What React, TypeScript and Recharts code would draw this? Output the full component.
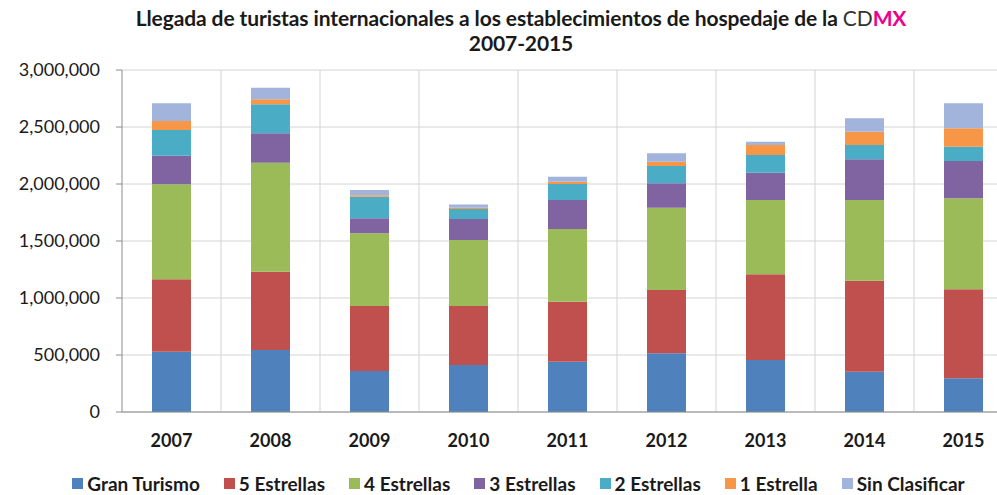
import React from 'react'
import {
  BarChart,
  Bar,
  XAxis,
  YAxis,
  Legend,
  CartesianGrid
} from 'recharts'

const YEARS = ['2007', '2008', '2009', '2010', '2011', '2012', '2013', '2014', '2015']

const GRAN_TURISMO = [529000, 544000, 360000, 412000, 441000, 515000, 456000, 354000, 295000]
const CINCO_ESTRELLAS = [635000, 687000, 570000, 518000, 527000, 555000, 752000, 798000, 781000]
const CUATRO_ESTRELLAS = [833000, 956000, 638000, 579000, 637000, 722000, 652000, 708000, 798000]
const TRES_ESTRELLAS = [251000, 258000, 131000, 184000, 255000, 214000, 239000, 357000, 328000]
const DOS_ESTRELLAS = [226000, 254000, 190000, 88000, 140000, 152000, 155000, 125000, 125000]
const UNA_ESTRELLA = [79000, 44000, 12000, 10000, 20000, 38000, 88000, 117000, 162000]
const SIN_CLASIFICAR = [155000, 102000, 46000, 30000, 44000, 73000, 29000, 117000, 219000]

const Y_TICKS = [0, 500000, 1000000, 1500000, 2000000, 2500000, 3000000]

const SERIES = [
  { key: 'gt', name: 'Gran Turismo', color: '#4F81BD', values: GRAN_TURISMO },
  { key: 'e5', name: '5 Estrellas', color: '#C0504D', values: CINCO_ESTRELLAS },
  { key: 'e4', name: '4 Estrellas', color: '#9BBB59', values: CUATRO_ESTRELLAS },
  { key: 'e3', name: '3 Estrellas', color: '#8064A2', values: TRES_ESTRELLAS },
  { key: 'e2', name: '2 Estrellas', color: '#4BACC6', values: DOS_ESTRELLAS },
  { key: 'e1', name: '1 Estrella', color: '#F79646', values: UNA_ESTRELLA },
  { key: 'sc', name: 'Sin Clasificar', color: '#A2B3DC', values: SIN_CLASIFICAR }
]

const data = YEARS.map((year, i) => {
  const row: Record<string, string | number> = { year }
  SERIES.forEach((s) => {
    row[s.key] = s.values[i]
  })
  return row
})

const FONT = 'Lato, "Open Sans", sans-serif'

const fmt = (v: number) => v.toLocaleString('en-US')

// keeps the series order (recharts sorts legend items by name otherwise)
const renderLegend = () => (
  <div
    style={{
      height: 24,
      display: 'flex',
      justifyContent: 'center',
      alignItems: 'center',
      gap: 24,
      fontFamily: FONT,
      fontWeight: 700,
      fontSize: 19,
      color: '#1a1a1a',
      paddingLeft: 24
    }}
  >
    {SERIES.map((s) => (
      <div key={s.key} style={{ display: 'flex', alignItems: 'center', gap: 4 }}>
        <span style={{ width: 11, height: 11, background: s.color, display: 'inline-block' }} />
        <span>{s.name}</span>
      </div>
    ))}
  </div>
)

const App: React.FC = () => {
  return (
    <div
      style={{
        position: 'absolute',
        left: 0,
        top: 0,
        width: 997,
        height: 495,
        overflow: 'hidden',
        background: '#fff',
        fontFamily: FONT
      }}
    >
      <div
        style={{
          position: 'absolute',
          top: 5,
          left: 0,
          width: 1042,
          textAlign: 'center',
          fontSize: 21,
          fontWeight: 700,
          letterSpacing: -0.1,
          color: '#1a1a1a',
          lineHeight: '25px'
        }}
      >
        <div>
          Llegada de turistas internacionales a los establecimientos de hospedaje de la{' '}
          <span style={{ fontWeight: 400, color: '#333' }}>CD</span>
          <span style={{ color: '#EC008C' }}>MX</span>
        </div>
        <div>2007-2015</div>
      </div>
      <BarChart
        width={1020}
        height={495}
        data={data}
        margin={{ top: 70, right: 7, left: 0, bottom: 0 }}
        barSize={39}
      >
        <CartesianGrid
          stroke="#D4D4D4"
          verticalCoordinatesGenerator={({ offset }: any) =>
            YEARS.map((_, i) => offset.left + ((i + 1) * offset.width) / YEARS.length)
          }
        />
        <XAxis
          dataKey="year"
          height={59}
          axisLine={{ stroke: '#8C8C8C' }}
          tickLine={false}
          tickMargin={16}
          tick={{ fill: '#1a1a1a', fontSize: 18, fontWeight: 700, fontFamily: FONT }}
        />
        <YAxis
          width={122}
          domain={[0, 3000000]}
          ticks={Y_TICKS}
          tickFormatter={fmt}
          axisLine={{ stroke: '#8C8C8C' }}
          tickLine={{ stroke: '#8C8C8C' }}
          tickSize={6}
          tickMargin={16}
          tick={{ fill: '#1a1a1a', fontSize: 18, fontFamily: FONT }}
        />
        <Legend verticalAlign="bottom" content={renderLegend} wrapperStyle={{ bottom: 0 }} />
        {SERIES.map((s) => (
          <Bar
            key={s.key}
            dataKey={s.key}
            name={s.name}
            stackId="a"
            fill={s.color}
            isAnimationActive={false}
          />
        ))}
      </BarChart>
    </div>
  )
}

export default App
